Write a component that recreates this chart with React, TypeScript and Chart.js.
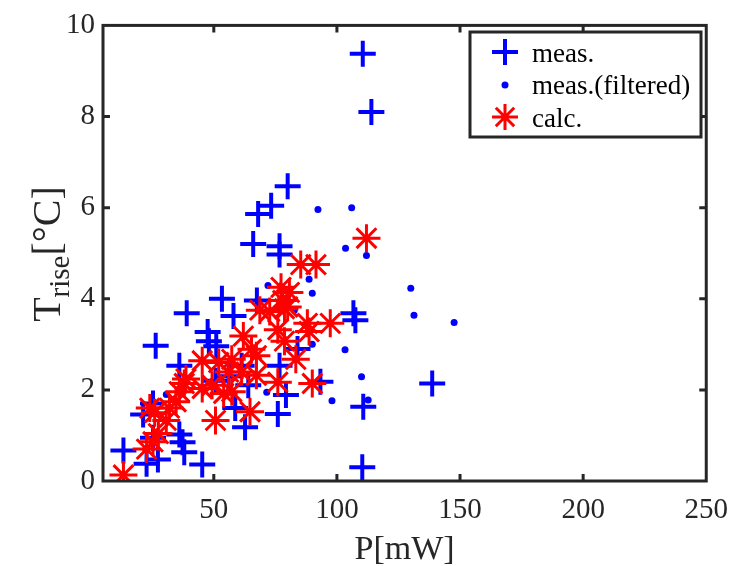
import React, { useEffect, useRef } from 'react';
import { Chart, registerables } from 'chart.js';
Chart.register(...registerables);

// ---- data ----
const measP = [110.5, 114, 80, 73.3, 68, 66, 76.7, 76.7, 53.3, 67.5, 39, 58, 106.7, 107.5, 47.5, 48, 51, 26.4, 36, 61.3, 76.7, 84, 64, 93.3, 138.7, 79.3, 58.7, 76, 62.7, 110.7, 110.3, 13.3, 22.7, 27.3, 38, 45.3, 36, 37.3, 25.3, 21.3, 25.3, 56, 50.7];
const measT = [9.38, 8.1, 6.47, 6.04, 5.86, 5.2, 5.15, 4.97, 4.0, 3.96, 3.68, 3.62, 3.68, 3.53, 3.27, 3.07, 2.96, 2.97, 2.53, 2.53, 2.53, 2.9, 2.1, 2.18, 2.14, 1.89, 1.6, 1.47, 1.18, 1.63, 0.3, 0.67, 0.38, 0.47, 0.63, 0.36, 1.02, 0.85, 0.95, 1.46, 1.7, 2.3, 2.2];

const filtP = [92.3, 106, 103.5, 112, 130, 131.3, 147.6, 88.7, 90, 72, 82.7, 90, 103.3, 110, 98, 112.7, 71.5, 30.7];
const filtT = [5.96, 6.0, 5.11, 4.95, 4.23, 3.64, 3.48, 4.43, 4.12, 4.29, 3.75, 3.0, 2.88, 2.29, 1.76, 1.78, 1.95, 1.9];

const calcP = [13.3, 22.7, 25.3, 27.5, 30.7, 26, 24, 32, 34.7, 36, 38, 38.7, 45.3, 45.3, 49.3, 50.7, 54, 57.3, 52, 57.3, 56, 61.3, 62, 65.3, 67.3, 67.3, 64.7, 68.7, 72.7, 76, 78.7, 77.3, 80.7, 78, 80, 76, 83.3, 90, 88, 88.7, 97.3, 85.3, 91.5, 112, 78.7];
const calcT = [0.13, 0.7, 0.86, 1.04, 1.33, 1.5, 1.6, 1.6, 1.74, 1.96, 2.14, 2.24, 2.64, 2.03, 2.1, 1.33, 1.92, 1.96, 2.6, 2.67, 2.39, 2.39, 3.18, 2.89, 2.75, 2.32, 1.52, 3.75, 3.72, 3.32, 3.07, 4.25, 4.14, 3.96, 3.82, 2.17, 2.67, 2.14, 3.46, 3.28, 3.46, 4.75, 4.75, 5.33, 3.78];

const xTicks = [50, 100, 150, 200, 250];
const yTicks = [0, 2, 4, 6, 8, 10];
const legendLabels = ['meas.', 'meas.(filtered)', 'calc.'];
const xTitle = 'P[mW]';
const yTitleMain = 'T';
const yTitleSub = 'rise';
const yTitleUnit = '[°C]';

const FONT = '"Liberation Serif", "Times New Roman", serif';
const AXIS = '#262626';
const BLUE = '#0000ff';
const RED = '#ff0000';

function drawCross(ctx: CanvasRenderingContext2D, x: number, y: number, r: number, w: number, c: string) {
  ctx.save();
  ctx.strokeStyle = c; ctx.lineWidth = w;
  ctx.beginPath();
  ctx.moveTo(x - r, y); ctx.lineTo(x + r, y);
  ctx.moveTo(x, y - r); ctx.lineTo(x, y + r);
  ctx.stroke();
  ctx.restore();
}
function drawStar(ctx: CanvasRenderingContext2D, x: number, y: number, r: number, w: number, c: string) {
  ctx.save();
  ctx.strokeStyle = c; ctx.lineWidth = w;
  ctx.beginPath();
  ctx.moveTo(x - r, y); ctx.lineTo(x + r, y);
  ctx.moveTo(x, y - r); ctx.lineTo(x, y + r);
  const d = r * Math.SQRT1_2;
  ctx.moveTo(x - d, y - d); ctx.lineTo(x + d, y + d);
  ctx.moveTo(x - d, y + d); ctx.lineTo(x + d, y - d);
  ctx.stroke();
  ctx.restore();
}

const decorPlugin = {
  id: 'decor',
  afterDatasetsDraw(chart: any) {
    const ctx: CanvasRenderingContext2D = chart.ctx;
    const { left, right, top, bottom } = chart.chartArea;
    const xs = chart.scales.x;
    const ys = chart.scales.y;
    ctx.save();
    // frame
    ctx.strokeStyle = AXIS;
    ctx.lineWidth = 3;
    ctx.strokeRect(left, top, right - left, bottom - top);
    // inner ticks
    const tl = 7;
    ctx.beginPath();
    xTicks.forEach((v) => {
      const px = xs.getPixelForValue(v);
      if (px > left + 2 && px < right - 2) {
        ctx.moveTo(px, bottom); ctx.lineTo(px, bottom - tl);
        ctx.moveTo(px, top); ctx.lineTo(px, top + tl);
      }
    });
    yTicks.forEach((v) => {
      const py = ys.getPixelForValue(v);
      if (py > top + 2 && py < bottom - 2) {
        ctx.moveTo(left, py); ctx.lineTo(left + tl, py);
        ctx.moveTo(right, py); ctx.lineTo(right - tl, py);
      }
    });
    ctx.stroke();

    // legend
    const lx = 470, ly = 32, lw = 231, lh = 105;
    ctx.fillStyle = '#ffffff';
    ctx.fillRect(lx, ly, lw, lh);
    ctx.strokeStyle = AXIS;
    ctx.lineWidth = 3;
    ctx.strokeRect(lx, ly, lw, lh);
    const mx = 505;
    const rows = [52, 85, 117];
    drawCross(ctx, mx, rows[0], 13, 4, BLUE);
    ctx.fillStyle = BLUE;
    ctx.beginPath(); ctx.arc(mx, rows[1], 3.5, 0, Math.PI * 2); ctx.fill();
    drawStar(ctx, mx, rows[2], 13, 3, RED);
    ctx.fillStyle = '#000';
    ctx.font = `27px ${FONT}`;
    ctx.textAlign = 'left';
    ctx.textBaseline = 'alphabetic';
    const baselines = [62, 94, 127];
    legendLabels.forEach((t, i) => ctx.fillText(t, 532, baselines[i]));

    // x title
    ctx.fillStyle = AXIS;
    ctx.font = `34px ${FONT}`;
    ctx.textAlign = 'center';
    ctx.textBaseline = 'alphabetic';
    ctx.fillText(xTitle, (left + right) / 2, 559);

    // y title (rotated, with subscript)
    const big = `40px ${FONT}`;
    const small = `29px ${FONT}`;
    ctx.font = big;
    const wT = ctx.measureText(yTitleMain).width;
    const wU = ctx.measureText(yTitleUnit).width;
    ctx.font = small;
    const wS = ctx.measureText(yTitleSub).width;
    const total = wT + wS + wU;
    const cy = 254;
    ctx.translate(60, cy);
    ctx.rotate(-Math.PI / 2);
    ctx.textAlign = 'left';
    let x0 = -total / 2;
    ctx.font = big; ctx.fillText(yTitleMain, x0, 0); x0 += wT;
    ctx.font = small; ctx.fillText(yTitleSub, x0, 9); x0 += wS;
    ctx.font = big; ctx.fillText(yTitleUnit, x0, 0);
    ctx.restore();
  },
};

export default function App() {
  const ref = useRef<HTMLCanvasElement | null>(null);
  useEffect(() => {
    if (!ref.current) return;
    const mk = (P: number[], T: number[]) => P.map((p, i) => ({ x: p, y: T[i] }));
    const chart = new Chart(ref.current, {
      type: 'scatter',
      data: {
        datasets: [
          {
            label: legendLabels[0],
            data: mk(measP, measT),
            pointStyle: 'cross',
            pointRadius: 13,
            pointBorderWidth: 4,
            borderColor: BLUE,
            backgroundColor: BLUE,
            order: 3,
          },
          {
            label: legendLabels[1],
            data: mk(filtP, filtT),
            pointStyle: 'circle',
            pointRadius: 3.5,
            pointBorderWidth: 0,
            borderColor: BLUE,
            backgroundColor: BLUE,
            order: 2,
          },
          {
            label: legendLabels[2],
            data: mk(calcP, calcT),
            pointStyle: 'star',
            pointRadius: 14,
            pointBorderWidth: 3,
            borderColor: RED,
            backgroundColor: RED,
            order: 1,
          },
        ],
      },
      options: {
        responsive: false,
        animation: false,
        events: [],
        layout: { padding: { top: 16, right: 24, left: 0, bottom: 0 } },
        plugins: { legend: { display: false }, tooltip: { enabled: false }, title: { display: false } },
        scales: {
          x: {
            type: 'linear',
            min: 5,
            max: 250,
            grid: { display: false, drawTicks: false },
            border: { display: false },
            afterBuildTicks: (s: any) => { s.ticks = xTicks.map((v) => ({ value: v })); },
            afterFit: (s: any) => { s.height = 85; },
            ticks: { color: AXIS, font: { family: FONT, size: 29 }, padding: 12, maxRotation: 0, autoSkip: false },
          },
          y: {
            type: 'linear',
            min: 0,
            max: 10,
            grid: { display: false, drawTicks: false },
            border: { display: false },
            afterBuildTicks: (s: any) => { s.ticks = yTicks.map((v) => ({ value: v })); },
            afterFit: (s: any) => { s.width = 103; },
            ticks: { color: AXIS, font: { family: FONT, size: 29 }, padding: 8, autoSkip: false },
          },
        },
      },
      plugins: [decorPlugin],
    } as any);
    return () => chart.destroy();
  }, []);
  return (
    <div style={{ position: 'absolute', left: 0, top: 0, width: 740, height: 566, background: '#fff' }}>
      <canvas ref={ref} width={740} height={566} />
    </div>
  );
}
